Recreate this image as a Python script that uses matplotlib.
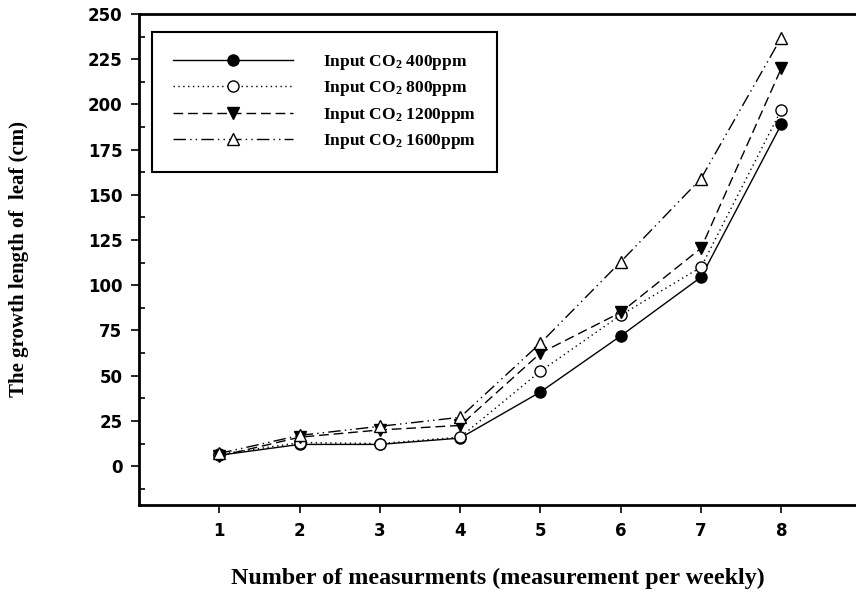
import matplotlib
matplotlib.use("Agg")
import matplotlib.pyplot as plt
from matplotlib.ticker import MultipleLocator

# weekly measurements
weeks = [1, 2, 3, 4, 5, 6, 7, 8]
co2_400 = [6, 12, 12, 15.5, 41, 72, 104.5, 189]
co2_800 = [6.5, 13, 12.5, 16, 52.5, 83.5, 110, 197]
co2_1200 = [5.5, 16, 20, 22.5, 62.5, 85, 120.5, 220]
co2_1600 = [7, 17, 22, 27, 68, 113, 159, 237]

labels = ["Input CO$_2$ 400ppm", "Input CO$_2$ 800ppm",
          "Input CO$_2$ 1200ppm", "Input CO$_2$ 1600ppm"]

plt.rcParams["mathtext.fontset"] = "custom"
plt.rcParams["mathtext.rm"] = "Liberation Serif:bold"
plt.rcParams["mathtext.default"] = "rm"

fig = plt.figure(figsize=(8.56, 5.93), dpi=100)
ax = fig.add_axes([0.1624, 0.1484, 0.8376, 0.828])

ax.plot(weeks, co2_400, color="black", lw=1, ls="-", marker="o",
        ms=8, mfc="black", mec="black", label=labels[0])
ax.plot(weeks, co2_800, color="black", lw=1, ls=(0, (1, 2.5)), marker="o",
        ms=8, mfc="white", mec="black", label=labels[1])
ax.plot(weeks, co2_1200, color="black", lw=1, ls=(0, (7, 3.5)), marker="v",
        ms=8, mfc="black", mec="black", label=labels[2])
ax.plot(weeks, co2_1600, color="black", lw=1, ls=(0, (9, 3, 1, 3, 1, 3)),
        marker="^", ms=8, mfc="white", mec="black", label=labels[3])

ax.set_xlim(0, 8.93)
ax.set_ylim(-21.5, 250)
ax.set_xticks(weeks)
ax.set_yticks(range(0, 251, 25))
ax.yaxis.set_minor_locator(MultipleLocator(12.5))

for s in ["left", "bottom", "top"]:
    ax.spines[s].set_linewidth(2)
ax.spines["right"].set_visible(False)

ax.tick_params(axis="both", which="major", direction="out", length=6, width=1.2,
               labelsize=12, pad=6)
ax.tick_params(axis="y", which="minor", direction="in", length=4, width=1.2)
for lab in ax.get_xticklabels() + ax.get_yticklabels():
    lab.set_fontweight("bold")

ax.set_xlabel("Number of measurments (measurement per weekly)",
              family="Liberation Serif", fontweight="bold", fontsize=17.3, labelpad=20)
ax.set_ylabel("The growth length of  leaf (cm)",
              family="Liberation Serif", fontweight="bold", fontsize=15, labelpad=42)

leg = ax.legend(loc="upper left", bbox_to_anchor=(0.018, 0.963), borderaxespad=0,
                prop={"family": "Liberation Serif", "weight": "bold", "size": 12.5},
                handlelength=6.9, handletextpad=1.75, labelspacing=0.42,
                borderpad=1.2, fancybox=False, framealpha=1)
leg.get_frame().set_edgecolor("black")
leg.get_frame().set_linewidth(1.5)

fig.savefig("out.png", dpi=100)
